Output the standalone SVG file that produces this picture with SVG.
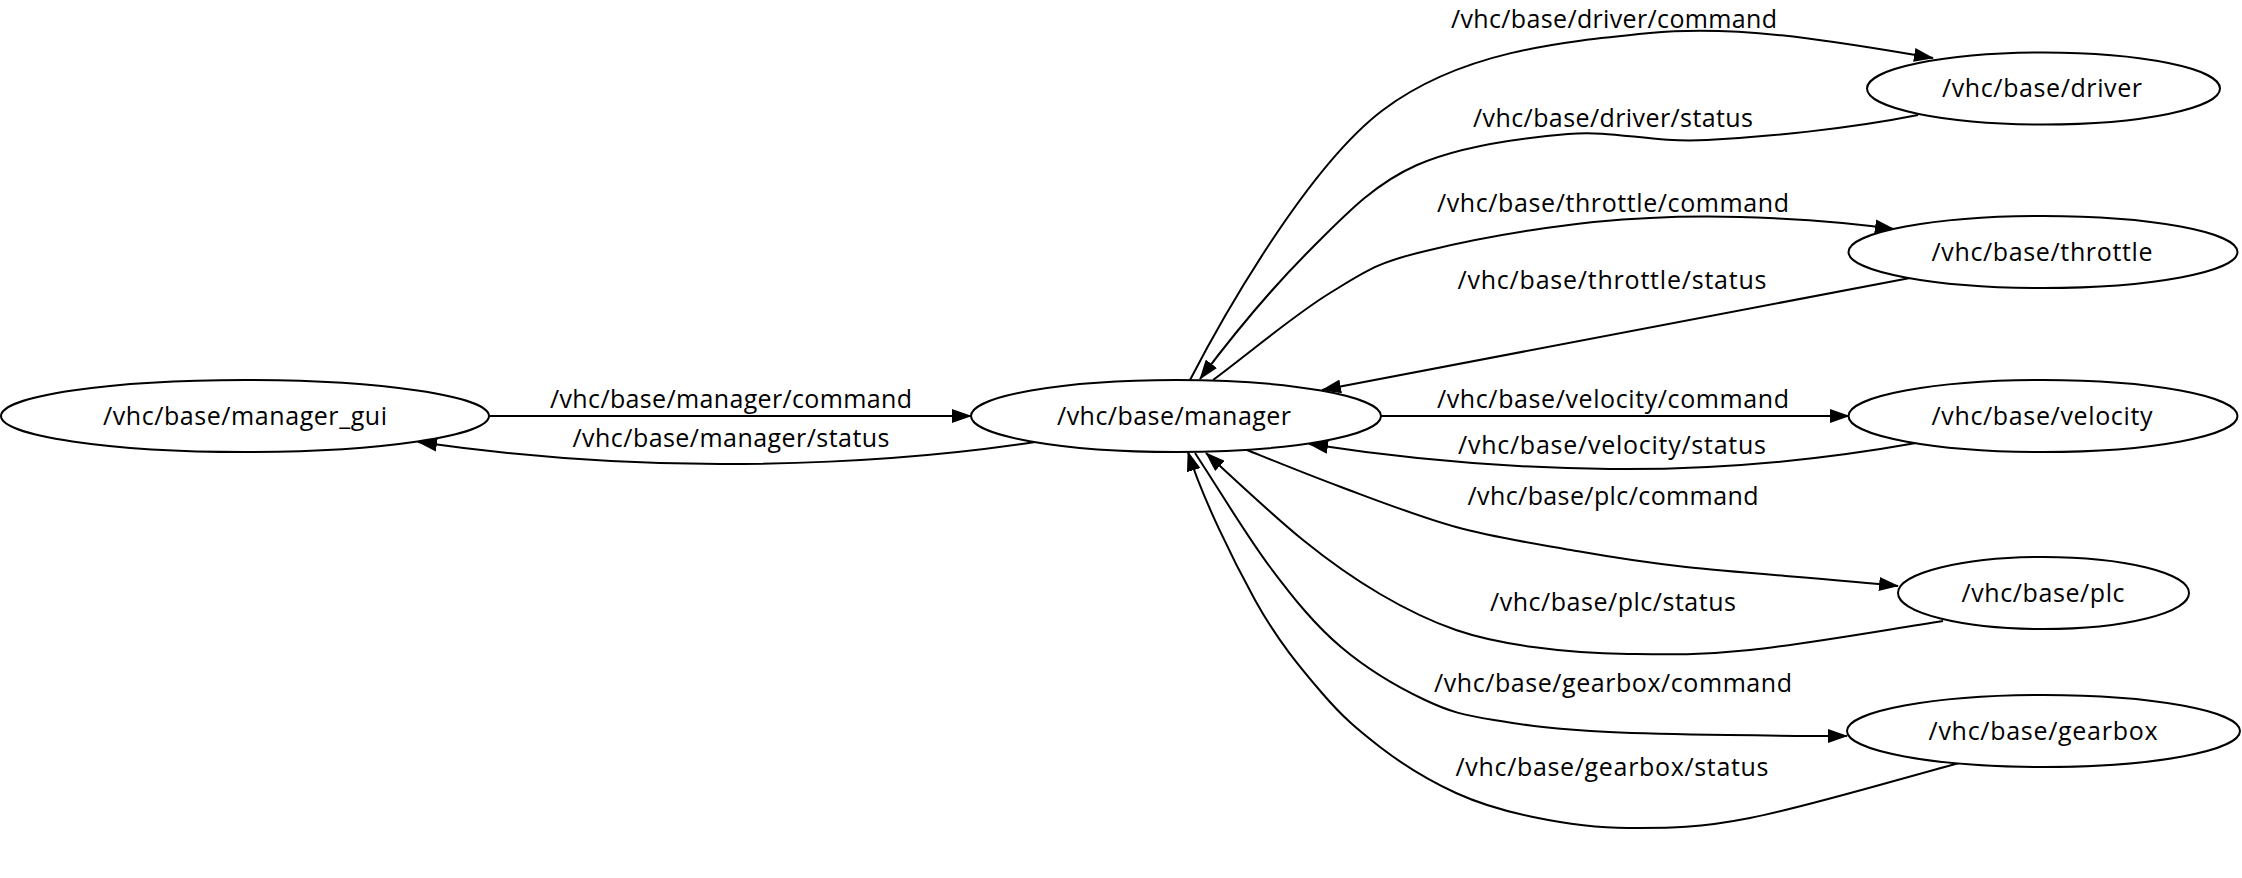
<svg xmlns="http://www.w3.org/2000/svg" width="2242" height="878" viewBox="0 0 2242 878">
<style>
.node ellipse{fill:#fff;stroke:#000;stroke-width:2}
.edge{fill:none;stroke:#000;stroke-width:2;marker-end:url(#arr)}
text{font-family:"Open Sans","Noto Sans","DejaVu Sans",sans-serif;font-size:25px;fill:#000;text-anchor:middle}
</style>
<defs>
<marker id="arr" viewBox="0 0 20 14" refX="19" refY="7" markerWidth="20" markerHeight="14" markerUnits="userSpaceOnUse" orient="auto">
<path d="M0,0 L20,7 L0,14 z" fill="#000"/>
</marker>
</defs>
<rect width="2242" height="878" fill="#fff"/>
<g id="connectors">
<path class="edge" d="M490,416 L971,416"/>
<path class="edge" d="M1035,442 C930,458 830,464 720,464 C620,464 510,455 418,442"/>
<path class="edge" d="M1190,380 C1220,322 1306,168 1383,110 C1460,52 1558,42 1650,33 C1742,24 1843,43 1933,58"/>
<path class="edge" d="M1918,115 C1848,129 1765,137 1707,140 C1649,143 1616,130 1568,134 C1520,138 1460,146 1417,165 C1374,184 1346,214 1310,250 C1274,286 1236,331 1200,379"/>
<path class="edge" d="M1213,380 C1252,351 1294,315 1330,293 C1366,271 1377,262 1430,250 C1483,237 1573,221 1650,218 C1727,214 1824,219 1894,229"/>
<path class="edge" d="M1910,278 L1322,390"/>
<path class="edge" d="M1381,416 L1849,416"/>
<path class="edge" d="M1916,443 C1810,462 1710,470 1610,469 C1500,468 1400,458 1309,444"/>
<path class="edge" d="M1247,450 C1278,462.5 1306,474 1341,487 C1376,500 1418,516.5 1456,527 C1494,537.5 1533,543.3 1571,550 C1609,556.7 1631.5,561 1686,567 C1740.5,573 1833,579 1898,586"/>
<path class="edge" d="M1943,621 C1879,631 1802.5,644.5 1750,650 C1697.5,655.5 1664,654.5 1628,654 C1592,653.5 1561.7,651 1533,647 C1504.3,643 1481.5,638.8 1456,630 C1430.5,621.2 1405.5,609 1380,594 C1354.5,579 1332,563.5 1303,540 C1274,516.5 1234,479 1206,453"/>
<path class="edge" d="M1195,453 C1220,491 1246,535 1270,567 C1294,599 1315,625 1341,647 C1367,669 1399.5,688 1425,700 C1450.5,712 1463,715 1494,720 C1525,725 1550,729.3 1609,732 C1668,734.7 1787,736 1847,736"/>
<path class="edge" d="M1963,762 C1892,781 1806,807 1750,818 C1694,829 1664,828 1628,828 C1592,828 1562,823 1533,817 C1504,811 1481.5,804.7 1456,793 C1430.5,781.3 1402,764 1380,747 C1358,730 1343,717.5 1322,693 C1301,668.5 1277,640 1255,600 C1233,560 1202,497 1188,452"/>
</g>
<g id="edge-labels">
<text x="731" y="408" textLength="362">/vhc/base/manager/command</text>
<text x="731" y="447" textLength="317">/vhc/base/manager/status</text>
<text x="1614" y="28" textLength="326">/vhc/base/driver/command</text>
<text x="1613" y="127" textLength="280">/vhc/base/driver/status</text>
<text x="1613" y="212" textLength="352">/vhc/base/throttle/command</text>
<text x="1612" y="289" textLength="309">/vhc/base/throttle/status</text>
<text x="1613" y="408" textLength="352">/vhc/base/velocity/command</text>
<text x="1612" y="454" textLength="308">/vhc/base/velocity/status</text>
<text x="1613" y="505" textLength="291">/vhc/base/plc/command</text>
<text x="1613" y="611" textLength="246">/vhc/base/plc/status</text>
<text x="1613" y="692" textLength="358">/vhc/base/gearbox/command</text>
<text x="1612" y="776" textLength="313">/vhc/base/gearbox/status</text>
</g>
<g id="node-manager_gui" class="node"><ellipse cx="245" cy="416" rx="244" ry="36"/><text x="245" y="425" textLength="284">/vhc/base/manager_gui</text></g>
<g id="node-manager" class="node"><ellipse cx="1176" cy="416" rx="205" ry="36"/><text x="1174" y="425" textLength="234">/vhc/base/manager</text></g>
<g id="node-driver" class="node"><ellipse cx="2043.5" cy="88.5" rx="176.5" ry="36"/><text x="2042" y="97" textLength="200">/vhc/base/driver</text></g>
<g id="node-throttle" class="node"><ellipse cx="2043" cy="252" rx="194.5" ry="36"/><text x="2042" y="261" textLength="221">/vhc/base/throttle</text></g>
<g id="node-velocity" class="node"><ellipse cx="2043" cy="416" rx="194.5" ry="36"/><text x="2042" y="425" textLength="221">/vhc/base/velocity</text></g>
<g id="node-plc" class="node"><ellipse cx="2043.5" cy="593" rx="145.5" ry="36"/><text x="2043" y="602" textLength="163">/vhc/base/plc</text></g>
<g id="node-gearbox" class="node"><ellipse cx="2043.5" cy="731" rx="196.5" ry="36"/><text x="2043" y="740" textLength="229">/vhc/base/gearbox</text></g>
</svg>
